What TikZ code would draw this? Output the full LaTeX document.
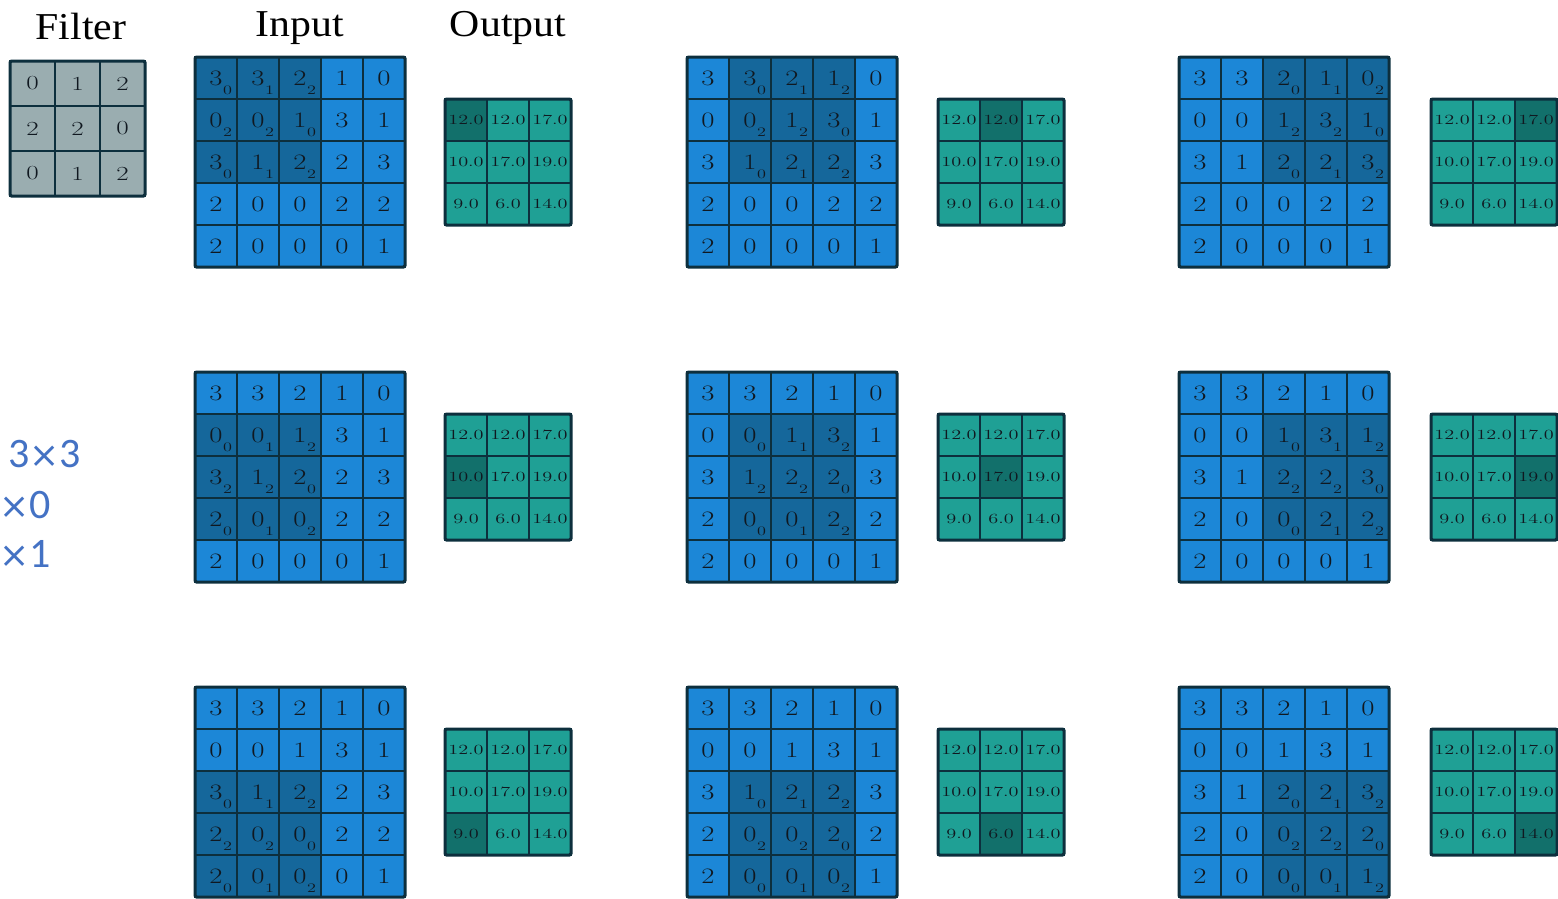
\documentclass[tikz,border=0pt]{standalone}
\usepackage{fontspec}
\newfontfamily\titlefont{Liberation Serif}
\newfontfamily\bluefont{Carlito}
\newfontfamily\symfont{DejaVu Sans}
\definecolor{inblue}{HTML}{1C87D7}
\definecolor{indark}{HTML}{15679B}
\definecolor{outteal}{HTML}{1FA095}
\definecolor{outdark}{HTML}{12706B}
\definecolor{fgray}{HTML}{9AADB0}
\definecolor{gridline}{HTML}{0D2F3D}
\definecolor{digit}{HTML}{101820}
\definecolor{txtblue}{HTML}{4472C4}
\newcommand{\indig}[1]{\scalebox{1.3}[1]{\fontsize{22}{22}\selectfont #1}}
\newcommand{\subdig}[1]{\scalebox{1.4}[1]{\fontsize{13}{13}\selectfont #1}}
\newcommand{\outdig}[1]{\scalebox{1.45}[1]{\fontsize{14}{14}\selectfont #1}}
\newcommand{\fdig}[1]{\scalebox{1.35}[1]{\fontsize{20}{20}\selectfont #1}}
\newcommand{\bx}{{\symfont\fontsize{36}{36}\selectfont ×}}
\begin{document}
\begin{tikzpicture}[x=1pt,y=-1pt,
  incell/.style={draw=gridline, line width=2pt, minimum size=42pt, inner sep=0pt, outer sep=0pt, text=digit},
  outcell/.style={draw=gridline, line width=2pt, minimum size=42pt, inner sep=0pt, outer sep=0pt, text=digit},
  fcell/.style={draw=gridline, line width=2pt, minimum size=45pt, inner sep=0pt, outer sep=0pt, text=digit, fill=fgray},
  subd/.style={inner sep=0pt, text=digit},
  outer/.style={draw=gridline, line width=3pt, rounded corners=1.5pt},
  title/.style={anchor=base, inner sep=0pt, font=\titlefont\fontsize{38}{38}\selectfont},
  bluetxt/.style={anchor=base west, inner sep=0pt, text=txtblue, font=\bluefont\fontsize{42}{42}\selectfont}]
\useasboundingbox (0,0) rectangle (1558,898);
\def\inarr{{3,3,2,1,0,0,0,1,3,1,3,1,2,2,3,2,0,0,2,2,2,0,0,0,1}}
\def\karr{{0,1,2,2,2,0,0,1,2}}
% titles
\node[title] (tfilter) at (81,39) {\scalebox{1.1}[1]{Filter}};
\node[title] (tinput) at (300,36) {\scalebox{1.1}[1]{Input}};
\node[title] (toutput) at (508,36) {\scalebox{1.1}[1]{Output}};
% filter
\foreach \i in {0,1,2}{
  \foreach \j in {0,1,2}{
    \pgfmathtruncatemacro\fv{\karr[3*\i+\j]}
    \node[fcell] (f-\i\j) at (10+22.5+45*\j, 61+22.5+45*\i) {\fdig{\fv}};
  }
}
\draw[outer] (f-00.north west) rectangle (f-22.south east);
% blue text
\node[bluetxt] (b1) at (8,467) {3\bx3};
\node[bluetxt] (b2) at (-1,518) {\bx0};
\node[bluetxt] (b3) at (-1,567) {\bx1};
% grids
\foreach \R in {0,1,2}{
 \foreach \C in {0,1,2}{
  \pgfmathsetmacro\gx{195+492*\C}
  \pgfmathsetmacro\gy{57+315*\R}
  \foreach \i in {0,...,4}{
   \foreach \j in {0,...,4}{
     \pgfmathtruncatemacro\hl{(\i>=\R)*(\i<=\R+2)*(\j>=\C)*(\j<=\C+2)}
     \pgfmathtruncatemacro\v{\inarr[5*\i+\j]}
     \ifnum\hl=1 \def\fc{indark}\else\def\fc{inblue}\fi
     \node[incell,fill=\fc] (in\R\C-\i\j) at (\gx+21+42*\j, \gy+21+42*\i) {\indig{\v}};
     \ifnum\hl=1
       \pgfmathtruncatemacro\kv{\karr[3*(\i-\R)+\j-\C]}
       \node[subd] (sub\R\C-\i\j) at ([shift={(11.5,12.5)}]in\R\C-\i\j.center) {\subdig{\kv}};
     \fi
   }
  }
  \draw[outer] (in\R\C-00.north west) rectangle (in\R\C-44.south east);
  \pgfmathsetmacro\ox{445+493*\C}
  \pgfmathsetmacro\oy{99+315*\R}
  \foreach \val [count=\k from 0] in {12.0,12.0,17.0,10.0,17.0,19.0,9.0,6.0,14.0}{
     \pgfmathtruncatemacro\oi{int(\k/3)}
     \pgfmathtruncatemacro\oj{mod(\k,3)}
     \pgfmathtruncatemacro\oh{(\oi==\R)*(\oj==\C)}
     \ifnum\oh=1 \def\oc{outdark}\else\def\oc{outteal}\fi
     \node[outcell,fill=\oc] (out\R\C-\oi\oj) at (\ox+21+42*\oj, \oy+21+42*\oi) {\outdig{\val}};
  }
  \draw[outer] (out\R\C-00.north west) rectangle (out\R\C-22.south east);
 }
}
\end{tikzpicture}
\end{document}
